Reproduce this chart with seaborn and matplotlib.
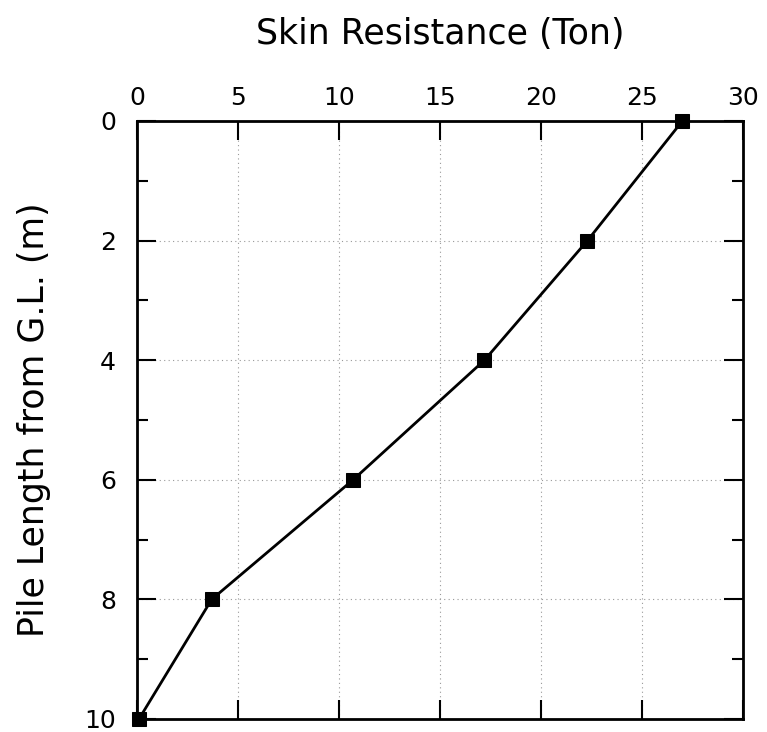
import matplotlib
matplotlib.use("Agg")
import matplotlib.pyplot as plt
import seaborn as sns
import pandas as pd

depth = [0, 2, 4, 6, 8, 10]
skin_resistance = [27.0, 22.3, 17.2, 10.7, 3.7, 0.1]
x_ticks = [0, 5, 10, 15, 20, 25, 30]
y_ticks = [0, 2, 4, 6, 8, 10]

sns.set_theme(style="white")
plt.rcParams['font.family'] = ['DejaVu Sans']
plt.rcParams['text.color'] = 'black'
plt.rcParams['axes.labelcolor'] = 'black'
plt.rcParams['xtick.color'] = 'black'
plt.rcParams['ytick.color'] = 'black'

df = pd.DataFrame({"depth": depth, "res": skin_resistance})

fig = plt.figure(figsize=(7.67, 7.32), dpi=100)
ax = fig.add_axes([0.1786, 0.0178, 0.7901, 0.8169])

sns.lineplot(data=df, x="res", y="depth", ax=ax, color="black", linewidth=2,
             marker="s", markersize=10, markeredgecolor="black",
             markerfacecolor="black", sort=False, estimator=None, clip_on=False)

ax.set_xlim(0, 30)
ax.set_ylim(10, 0)
ax.set_xticks(x_ticks)
ax.set_yticks(y_ticks)
ax.set_yticks([1, 3, 5, 7, 9], minor=True)
ax.xaxis.tick_top()
ax.xaxis.set_label_position("top")
ax.tick_params(axis="both", which="major", direction="in", length=14, width=1.5,
               labelsize=18, top=True, bottom=True, left=True, right=True,
               colors="black")
ax.tick_params(axis="x", which="major", pad=8)
ax.tick_params(axis="y", which="major", pad=15)
ax.tick_params(axis="y", which="minor", direction="in", length=8, width=1.5,
               left=True, right=True, colors="black")
ax.grid(True, which="major", linestyle=(0, (1, 3)), color="#999999", linewidth=0.8)
for s in ax.spines.values():
    s.set_linewidth(2)
    s.set_color("black")
ax.set_xlabel("Skin Resistance (Ton)", fontsize=25, labelpad=30, color="black")
ax.set_ylabel("Pile Length from G.L. (m)", fontsize=25, color="black")
ax.yaxis.set_label_coords(-0.142, 0.5)

fig.savefig("out.png", dpi=100)
